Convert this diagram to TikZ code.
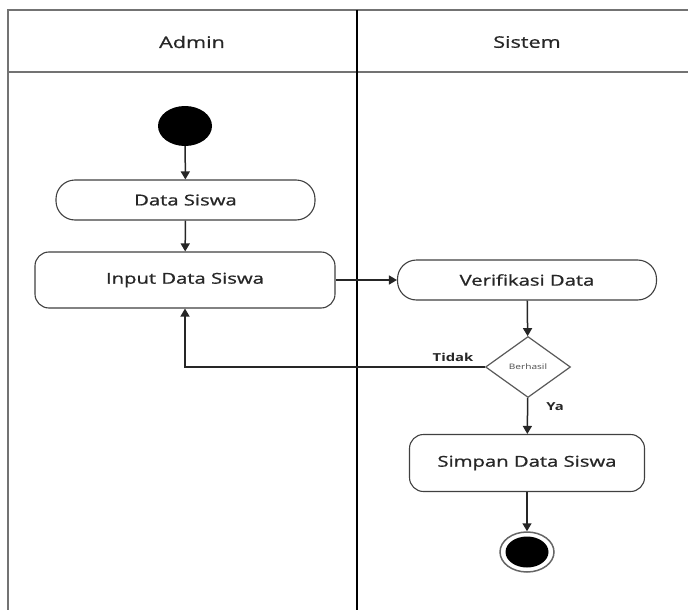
\documentclass[tikz,border=0pt]{standalone}
\usepackage{fontspec}
\usepackage{graphicx}
\setmainfont{Open Sans}
\newfontfamily\medfont{Open Sans}[FakeBold=0.8]
\usetikzlibrary{shapes.geometric,arrows.meta}
\newcommand{\stretchtxt}[1]{\scalebox{1.35}[1]{#1}}
\tikzset{
  frameline/.style={draw=black!55, line width=2pt},
  lane/.style={draw=black, line width=1.2pt},
  act/.style={draw=black!75, line width=1.1pt, fill=white, inner sep=0pt, font=\medfont\fontsize{15}{17}\selectfont, text=black!85},
  flow/.style={draw=black!85, line width=1.5pt, -{Triangle[length=8pt,width=9pt]}},
  hdr/.style={font=\medfont\fontsize{16}{18}\selectfont, text=black!85},
  lbl/.style={font=\fontsize{11}{13}\selectfont\bfseries, text=black!85},
}
\begin{document}
\begin{tikzpicture}[x=1pt,y=-1pt]
\useasboundingbox (0,0) rectangle (688,610);
% swimlane frame
\draw[frameline] (8,610) -- (8,10) -- (688,10);
\draw[frameline] (8,72) -- (688,72);
\draw[lane] (357,10) -- (357,610);
\node[hdr] (hadmin) at (192,42) {\stretchtxt{Admin}};
\node[hdr] (hsistem) at (527,42) {\stretchtxt{Sistem}};
% nodes
\node[ellipse, fill=black, minimum width=54pt, minimum height=40pt, inner sep=0pt] (start) at (185,126) {};
\node[act, rounded corners=19pt, minimum width=259pt, minimum height=40pt] (ds) at (185.5,200) {\stretchtxt{Data Siswa}};
\node[act, rounded corners=14pt, minimum width=300pt, minimum height=56pt] (inp) at (185,280) {\stretchtxt{Input Data Siswa}};
\node[act, rounded corners=19pt, minimum width=259pt, minimum height=40pt] (ver) at (527,280) {\stretchtxt{Verifikasi Data}};
\node[diamond, draw=black!65, line width=1.2pt, fill=white, inner sep=0pt, minimum width=85pt, minimum height=61pt, font=\fontsize{7.5}{9}\selectfont, text=black!70] (dec) at (528,367) {\stretchtxt{Berhasil}};
\node[act, rounded corners=14pt, minimum width=235pt, minimum height=57pt] (simp) at (527,463) {\stretchtxt{Simpan Data Siswa}};
\node[ellipse, draw=black!60, line width=1.5pt, fill=white, minimum width=54pt, minimum height=40pt, inner sep=0pt] (fin) at (527,552) {};
\node[ellipse, fill=black, minimum width=43pt, minimum height=31pt, inner sep=0pt] (fininner) at (527,552) {};
% flows
\draw[flow] (start) -- (ds);
\draw[flow] (ds) -- (inp);
\draw[flow] (inp) -- (ver);
\draw[flow] (ver) -- (dec);
\draw[flow] (dec.west) -| (inp.south);
\draw[flow] (dec) -- (simp);
\draw[flow] (simp) -- (fin);
\node[lbl] (tidak) at (453,357) {\stretchtxt{Tidak}};
\node[lbl] (ya) at (555,407) {\stretchtxt{Ya}};
\end{tikzpicture}
\end{document}
